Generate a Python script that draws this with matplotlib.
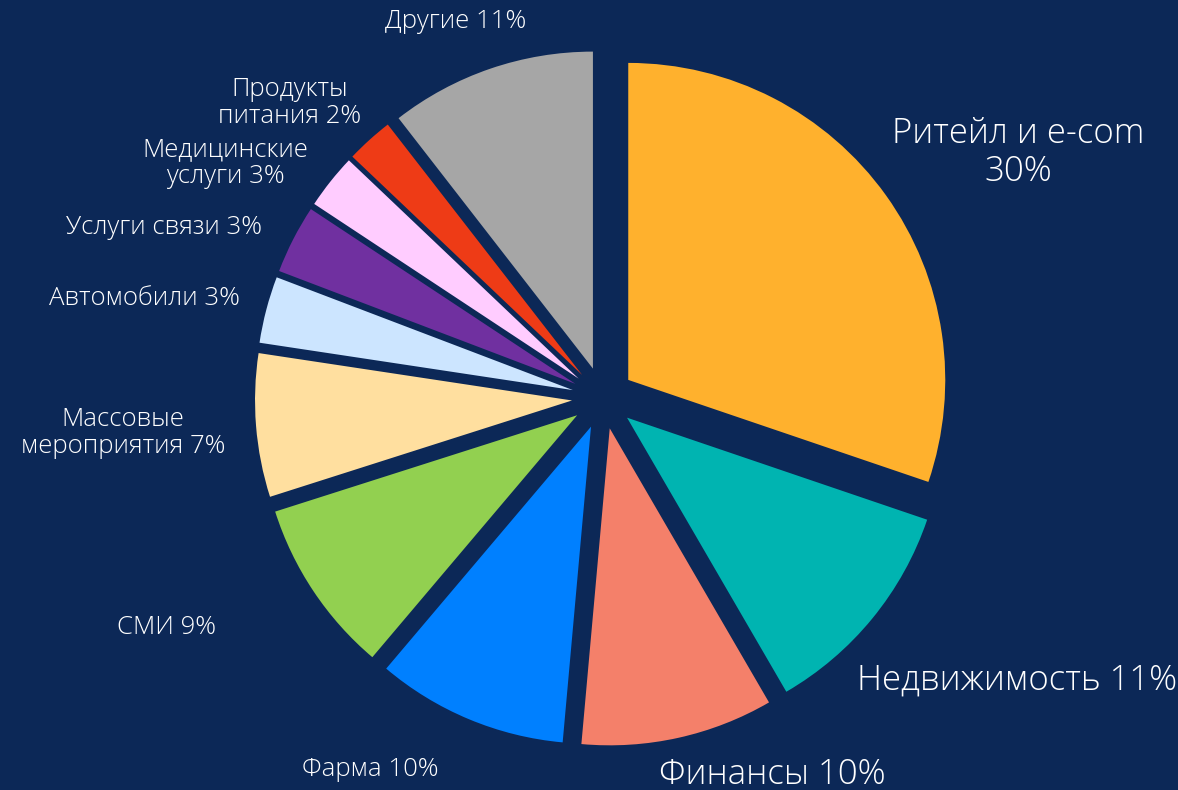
import matplotlib
matplotlib.use("Agg")
import matplotlib.pyplot as plt

FUNDO = "#0C2857"

categorias = [
    "Ритейл и e-com\n30%",
    "Недвижимость 11%",
    "Финансы 10%",
    "Фарма 10%",
    "СМИ 9%",
    "Массовые\nмероприятия 7%",
    "Автомобили 3%",
    "Услуги связи 3%",
    "Медицинские\nуслуги 3%",
    "Продукты\nпитания 2%",
    "Другие 11%",
]
valores = [30.2, 11.4, 9.8, 9.75, 8.9, 7.3, 3.4, 3.5, 2.8, 2.4, 10.5]
cores = [
    "#FFB12D", "#00B4B1", "#F4806A", "#0080FF", "#92D050", "#FFDF9F",
    "#CCE5FF", "#7030A0", "#FFCCFF", "#EE3B16", "#A6A6A6",
]

# posicao do rotulo em pixels da imagem (x, y a partir do topo) e tamanho da fonte
pos_rotulos = [
    (1018, 153), (1017, 680), (772, 775), (370, 770), (167, 627), (123, 433),
    (144, 298), (164, 227), (225, 163), (290, 103), (456, 22),
]
tam_rotulos = [25, 25, 25, 18.5, 18.5, 18.5, 18.5, 18.5, 18.5, 18.5, 18.5]

LARGURA, ALTURA = 1178, 790
CX, CY, RAIO = 603, 398, 317

plt.rcParams["font.family"] = ["Open Sans", "DejaVu Sans"]

fig = plt.figure(figsize=(LARGURA / 100, ALTURA / 100), dpi=100, facecolor=FUNDO)
ax = fig.add_axes([0, 0, 1, 1])
ax.set_facecolor(FUNDO)

ax.pie(
    valores,
    colors=cores,
    startangle=90,
    counterclock=False,
    explode=[0.098] * len(valores),
    wedgeprops={"linewidth": 0},
)

ax.set_xlim(-CX / RAIO, (LARGURA - CX) / RAIO)
ax.set_ylim(-(ALTURA - CY) / RAIO, CY / RAIO)
ax.set_aspect("equal")
ax.axis("off")

for texto, (px, py), tam in zip(categorias, pos_rotulos, tam_rotulos):
    ax.text(
        (px - CX) / RAIO,
        (CY - py) / RAIO,
        texto,
        color="white",
        fontsize=tam,
        fontweight="light",
        ha="center",
        va="center",
        multialignment="center",
        linespacing=1.12,
    )

plt.savefig("out.png", dpi=100, facecolor=FUNDO)
plt.close()
